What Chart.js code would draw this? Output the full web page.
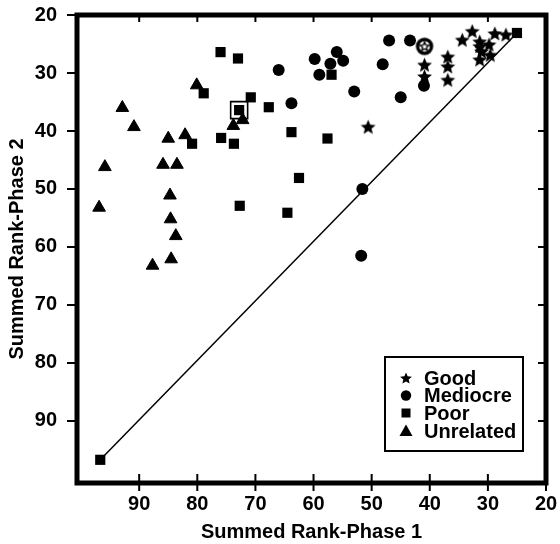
<!DOCTYPE html>
<html><head><meta charset="utf-8">
<script src="https://cdn.jsdelivr.net/npm/chart.js@4.4.0/dist/chart.umd.min.js"></script>
<style>html,body{margin:0;padding:0;background:#fff;}#wrap{width:560px;height:544px;position:relative;}</style>
</head><body><div id="wrap"><canvas id="c" width="560" height="544"></canvas></div>
<script>
// ---- data (Summed Rank Phase 1 = x, Phase 2 = y) ----
const xTickValues = [90, 80, 70, 60, 50, 40, 30, 20];
const yTickValues = [20, 30, 40, 50, 60, 70, 80, 90];
const legendLabels = ['Good', 'Mediocre', 'Poor', 'Unrelated'];

const goodX = [50.6, 40.9, 40.9, 36.9, 36.9, 36.9, 34.4, 32.7, 31.4, 31.4, 29.8, 31.1, 29.6, 31.4, 28.8, 26.9];
const goodY = [39.3, 28.6, 30.6, 27.2, 28.9, 31.2, 24.3, 22.8, 24.6, 25.4, 25.1, 26.3, 26.9, 27.7, 23.2, 23.4];

const goodMarkedX = [40.9];
const goodMarkedY = [25.4];

const mediocreX = [66.0, 63.8, 59.8, 59.0, 57.1, 56.0, 54.9, 53.0, 48.1, 47.0, 43.4, 45.0, 41.0, 51.6, 51.8];
const mediocreY = [29.5, 35.2, 27.6, 30.3, 28.4, 26.4, 27.9, 33.2, 28.5, 24.4, 24.4, 34.2, 32.2, 50.0, 61.5];

const poorX = [76.0, 73.0, 78.9, 70.8, 72.8, 67.7, 75.9, 73.7, 80.9, 63.8, 57.6, 56.9, 62.5, 72.7, 64.5, 96.7, 25.0];
const poorY = [26.4, 27.5, 33.5, 34.2, 36.4, 35.9, 41.2, 42.2, 42.2, 40.2, 41.3, 30.3, 48.1, 52.9, 54.1, 96.7, 23.1];

const poorMarkedX = [72.8];
const poorMarkedY = [36.4];

const unrelatedX = [80.1, 92.9, 90.9, 72.2, 73.8, 85.0, 82.1, 95.9, 85.9, 83.5, 84.7, 96.9, 84.6, 83.7, 87.7, 84.5];
const unrelatedY = [32.1, 36.0, 39.3, 38.1, 39.1, 41.3, 40.7, 46.2, 45.8, 45.8, 51.1, 53.2, 55.2, 58.1, 63.2, 62.1];

const diagX = [96.7, 25.0];
const diagY = [96.7, 23.1];

const axisMin = 20, axisMax = 100.7;
// -------------------------------------------------

const toPts = (xs, ys) => xs.map((x, i) => ({x: x, y: ys[i]}));
const FONT = '"Liberation Sans", Arial, Helvetica, sans-serif';

function starPath(ctx, cx, cy, ro, ri) {
  ctx.beginPath();
  for (let i = 0; i < 10; i++) {
    const r = i % 2 === 0 ? ro : ri;
    const a = -Math.PI / 2 + i * Math.PI / 5;
    const px = cx + r * Math.cos(a), py = cy + r * Math.sin(a);
    if (i === 0) ctx.moveTo(px, py); else ctx.lineTo(px, py);
  }
  ctx.closePath();
}
function makeStar(size, ro) {
  const c = document.createElement('canvas');
  c.width = size; c.height = size;
  const g = c.getContext('2d');
  g.fillStyle = '#000';
  starPath(g, size / 2, size / 2 + 0.6, ro, ro * 0.45);
  g.fill();
  return c;
}
function makeRingStar() {
  const s = 22;
  const c = document.createElement('canvas');
  c.width = s; c.height = s;
  const g = c.getContext('2d');
  g.beginPath(); g.arc(s / 2, s / 2, 7, 0, Math.PI * 2);
  g.fillStyle = '#fff'; g.fill();
  g.lineWidth = 3.4; g.strokeStyle = '#000'; g.stroke();
  starPath(g, s / 2, s / 2 + 0.4, 4.8, 2.1);
  g.fillStyle = '#fff'; g.fill();
  g.lineWidth = 1.4; g.stroke();
  return c;
}
const starImg = makeStar(17, 7.8);
const starLegend = makeStar(14, 6.2);
const ringStarImg = makeRingStar();

const framePlugin = {
  id: 'frame',
  afterDraw(chart) {
    const ctx = chart.ctx, a = chart.chartArea;
    const xs = chart.scales.x, ys = chart.scales.y;
    ctx.save();
    ctx.strokeStyle = '#000';
    ctx.lineWidth = 5;
    ctx.strokeRect(a.left, a.top, a.right - a.left, a.bottom - a.top);
    ctx.lineWidth = 2;
    ctx.beginPath();
    xTickValues.forEach(v => {
      const px = xs.getPixelForValue(v);
      ctx.moveTo(px, a.bottom - 9); ctx.lineTo(px, a.bottom + 8);
      ctx.moveTo(px, a.top); ctx.lineTo(px, a.top + 7);
    });
    yTickValues.forEach(v => {
      const py = ys.getPixelForValue(v);
      ctx.moveTo(a.left - 10, py); ctx.lineTo(a.left + 2, py);
      ctx.moveTo(a.right - 8, py); ctx.lineTo(a.right, py);
    });
    ctx.stroke();

    // legend box
    const L = 385, T = 357, R = 523, B = 451;
    ctx.lineWidth = 2;
    ctx.strokeRect(L, T, R - L, B - T);
    const rows = [378, 395.5, 413, 431];
    const mx = 406;
    ctx.fillStyle = '#000';
    ctx.drawImage(starLegend, mx - 7, rows[0] - 7);
    ctx.beginPath(); ctx.arc(mx, rows[1], 5.2, 0, Math.PI * 2); ctx.fill();
    ctx.fillRect(mx - 4.5, rows[2] - 4.5, 9, 9);
    ctx.beginPath();
    ctx.moveTo(mx, rows[3] - 6.5); ctx.lineTo(mx + 6.5, rows[3] + 5); ctx.lineTo(mx - 6.5, rows[3] + 5);
    ctx.closePath(); ctx.fill();
    ctx.font = 'bold 20px ' + FONT;
    ctx.textBaseline = 'middle';
    ctx.textAlign = 'left';
    legendLabels.forEach((t, i) => ctx.fillText(t, 424, rows[i] + 1));
    ctx.restore();
  }
};

const tickFont = {family: FONT, size: 20, weight: 'bold'};

new Chart(document.getElementById('c'), {
  type: 'scatter',
  data: {
    datasets: [
      {label: 'GoodMarked', data: toPts(goodMarkedX, goodMarkedY), pointStyle: ringStarImg},
      {label: 'PoorMarked', data: toPts(poorMarkedX, poorMarkedY), pointStyle: 'rect', pointRadius: 12,
        backgroundColor: 'rgba(0,0,0,0)', borderColor: '#000', borderWidth: 1.6},
      {label: 'Good', data: toPts(goodX, goodY), pointStyle: starImg},
      {label: 'Mediocre', data: toPts(mediocreX, mediocreY), pointStyle: 'circle', pointRadius: 6,
        backgroundColor: '#000', borderColor: '#000', borderWidth: 0},
      {label: 'Poor', data: toPts(poorX, poorY), pointStyle: 'rect', pointRadius: 7.2,
        backgroundColor: '#000', borderColor: '#000', borderWidth: 0},
      {label: 'Unrelated', data: toPts(unrelatedX, unrelatedY), pointStyle: 'triangle', pointRadius: 7.3,
        backgroundColor: '#000', borderColor: '#000', borderWidth: 1},
      {label: 'Diagonal', data: toPts(diagX, diagY), showLine: true, pointRadius: 0,
        borderColor: '#000', borderWidth: 1.5, fill: false}
    ]
  },
  options: {
    responsive: false,
    animation: false,
    devicePixelRatio: 1,
    layout: {padding: {top: 15, right: 14, left: 0, bottom: 0}},
    plugins: {legend: {display: false}, tooltip: {enabled: false}},
    elements: {point: {hoverRadius: 0}},
    scales: {
      x: {
        type: 'linear', reverse: true, min: axisMin, max: axisMax,
        afterBuildTicks: s => { s.ticks = xTickValues.map(v => ({value: v})); },
        afterFit: s => { s.height = 61; s.paddingLeft = 0; s.paddingRight = 0; },
        grid: {display: false}, border: {display: false},
        ticks: {font: tickFont, color: '#000', padding: 1, maxRotation: 0, autoSkip: false},
        title: {display: true, text: 'Summed Rank-Phase 1', font: tickFont, color: '#000', padding: {top: 0, bottom: 0}}
      },
      y: {
        type: 'linear', reverse: true, min: axisMin, max: axisMax,
        afterBuildTicks: s => { s.ticks = yTickValues.map(v => ({value: v})); },
        afterFit: s => { s.width = 77; s.paddingTop = 0; s.paddingBottom = 0; },
        grid: {display: false}, border: {display: false},
        ticks: {font: tickFont, color: '#000', padding: 12, autoSkip: false},
        title: {display: true, text: 'Summed Rank-Phase 2', font: tickFont, color: '#000', padding: {top: 5, bottom: 0}}
      }
    }
  },
  plugins: [framePlugin]
});
</script></body></html>
